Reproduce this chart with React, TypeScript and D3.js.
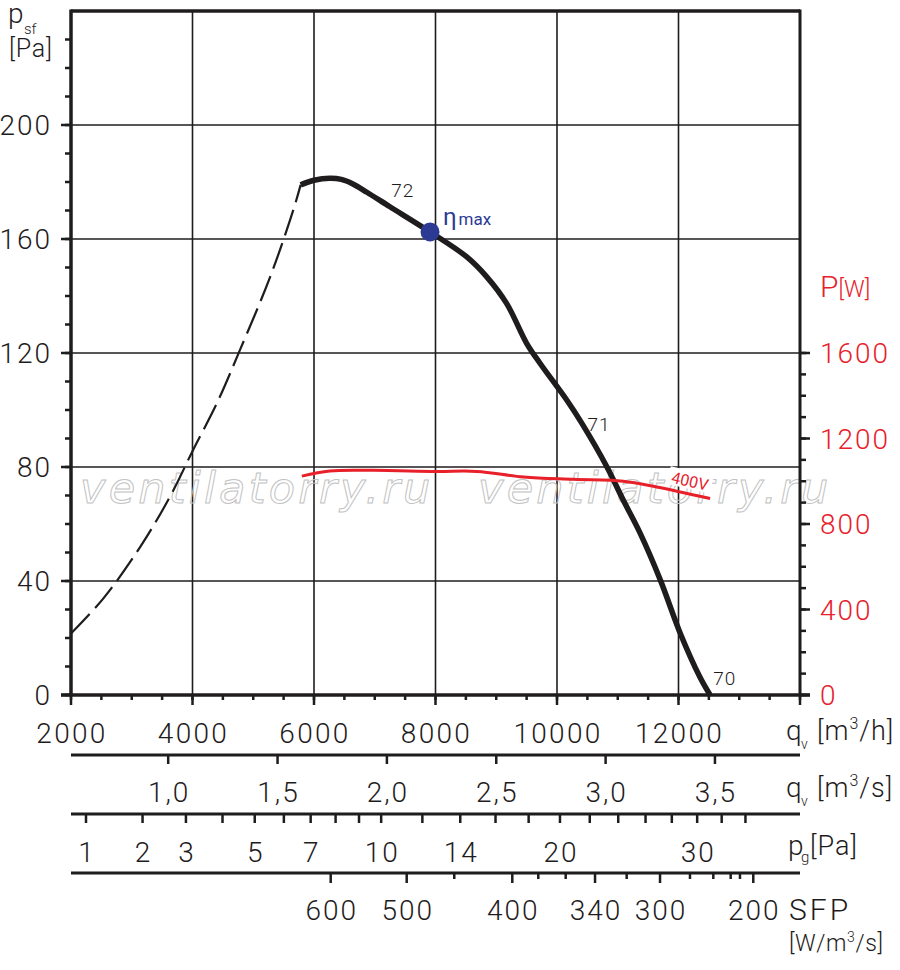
import React from "react";
import * as d3 from "d3";

// ---- data ----
const dashedQ = [2000, 2530, 3140, 3630, 4010, 4400, 4780, 5280, 5660, 5780];
const dashedP = [21.6, 33.8, 52, 69.6, 86, 102.3, 121, 146.8, 170.2, 179];

const solidQ = [5780, 6000, 6260, 6450, 6640, 6870, 7250, 7910, 8510, 8840, 9170, 9500, 9720, 10160, 10410, 10820, 11090, 11370, 11700, 12030, 12350, 12520];
const solidP = [179, 180.6, 181.3, 180.9, 179.3, 176.4, 171.3, 162.5, 153.8, 146.8, 137.4, 123.4, 116.4, 103.5, 95.3, 80.1, 68.4, 56.7, 40.4, 21.6, 6.4, 0];

const powerQ = [5800, 6260, 6980, 8020, 8680, 9450, 10270, 11090, 11640, 12520];
const powerW = [1024, 1048, 1051, 1046, 1046, 1020, 1009, 1000, 973, 919];

const etaQ = 7910;
const etaP = 162.5;

const xMajor = [2000, 4000, 6000, 8000, 10000, 12000, 14000];
const xLabels = [2000, 4000, 6000, 8000, 10000, 12000];
const xGrid = [4000, 6000, 8000, 10000, 12000];
const yMajor = [0, 40, 80, 120, 160, 200];
const yGrid = [40, 80, 120, 160, 200];
const pMajor = [0, 400, 800, 1200, 1600];

const qsTicks = [1.0, 1.5, 2.0, 2.5, 3.0, 3.5];
const pgTicks = [1, 2, 3, 4, 5, 6, 7, 8, 9, 10, 12, 14, 16, 18, 20, 22, 24, 26, 28, 30, 32, 34];
const pgLabels = [1, 2, 3, 5, 7, 10, 14, 20, 30];
const sfpValues = [600, 500, 450, 400, 380, 360, 340, 320, 300, 280, 260, 240, 220, 200];
const sfpQ = [6275, 7526, 8309, 9264, 9692, 10143, 10626, 11147, 11696, 12189, 12573, 12859, 13012, 13231];
const sfpLabels = [600, 500, 400, 340, 300, 200];

const curveLabels = [
  { q: 7460, p: 177, t: "72" },
  { q: 10690, p: 95, t: "71" },
  { q: 12760, p: 6, t: "70" },
];

// ---- layout ----
const L = 71, R = 800, T = 11, B = 695;
const FONT = "Roboto, 'DejaVu Sans', sans-serif";
const FW = 300;
const RED = "#e8202a";
const INK = "#1f1c1d";
const BLUE = "#2d3a94";

const x = d3.scaleLinear().domain([2000, 14000]).range([L, R]);
const y = d3.scaleLinear().domain([0, 240]).range([B, T]);
const yP = d3.scaleLinear().domain([0, 3200]).range([B, T]);
const qFromPg = d3.scaleSqrt().domain([0, 36]).range([0, 2247 * 6]);

function pathFrom(qs: number[], vs: number[], ys: (v: number) => number) {
  const pts: [number, number][] = qs.map((q, i) => [x(q), ys(vs[i])]);
  return d3.line().curve(d3.curveCatmullRom.alpha(0.5))(pts) || "";
}

const yMinor = d3.range(0, 240, 10);
const pMinor = d3.range(0, 1700, 100);
const xMinor = d3.range(2000, 14001, 500);

export default function App() {
  const txt = { fontFamily: FONT, fill: INK, fontWeight: FW } as const;
  return (
    <svg
      width={900}
      height={970}
      viewBox="0 0 900 970"
      style={{ position: "absolute", left: 0, top: 0, background: "#fff" }}
    >
      <rect x={0} y={0} width={900} height={970} fill="#fff" />

      {/* grid */}
      {xGrid.map((v) => (
        <line key={"gx" + v} x1={x(v)} x2={x(v)} y1={T} y2={B} stroke={INK} strokeWidth={1.6} />
      ))}
      {yGrid.map((v) => (
        <line key={"gy" + v} x1={L} x2={R} y1={y(v)} y2={y(v)} stroke={INK} strokeWidth={1.6} />
      ))}

      {/* watermark */}
      {[80, 478].map((wx) => (
        <text
          key={"wm" + wx}
          x={wx}
          y={503}
          fontFamily="'DejaVu Sans', sans-serif"
          fontStyle="italic"
          fontSize={43}
          letterSpacing={3.2}
          fill="none"
          stroke="#c2c2c2"
          strokeWidth={1}
        >
          ventilatorry.ru
        </text>
      ))}

      {/* 400V label background */}
      <g transform="translate(690,481) rotate(13)">
        <rect x={-22} y={-10} width={44} height={18} fill="#fff" />
      </g>

      {/* left axis ticks */}
      {yMinor.map((v) => (
        <line key={"ym" + v} x1={L - 6} x2={L} y1={y(v)} y2={y(v)} stroke={INK} strokeWidth={2.5} />
      ))}
      {yMajor.map((v) => (
        <line key={"yM" + v} x1={L - 10} x2={L} y1={y(v)} y2={y(v)} stroke={INK} strokeWidth={2.5} />
      ))}
      {yMajor.map((v) => (
        <text key={"yl" + v} x={52} y={y(v)} dy="0.36em" textAnchor="end" fontSize={28} letterSpacing={2} {...txt}>
          {v}
        </text>
      ))}

      {/* right axis ticks */}
      {pMinor.map((v) => (
        <line key={"pm" + v} x1={R} x2={R + 6} y1={yP(v)} y2={yP(v)} stroke={INK} strokeWidth={2.5} />
      ))}
      {pMajor.map((v) => (
        <line key={"pM" + v} x1={R} x2={R + 10} y1={yP(v)} y2={yP(v)} stroke={INK} strokeWidth={2.5} />
      ))}
      {pMajor.map((v) => (
        <text key={"pl" + v} x={820} y={yP(v)} dy="0.36em" fontSize={28} letterSpacing={2} fontFamily={FONT} fontWeight={FW} fill={RED}>
          {v}
        </text>
      ))}
      <text x={820} y={297} fontFamily={FONT} fontWeight={FW} fill={RED} fontSize={30}>
        P<tspan fontSize={23}>[W]</tspan>
      </text>

      {/* bottom axis ticks */}
      {xMinor.map((v) => (
        <line key={"xm" + v} x1={x(v)} x2={x(v)} y1={B} y2={B + 5} stroke={INK} strokeWidth={2.5} />
      ))}
      {xMajor.map((v) => (
        <line key={"xM" + v} x1={x(v)} x2={x(v)} y1={B} y2={B + 10} stroke={INK} strokeWidth={2.5} />
      ))}
      {xLabels.map((v) => (
        <text key={"xl" + v} x={x(v) + 1} y={743} textAnchor="middle" fontSize={28} letterSpacing={2.3} {...txt}>
          {v}
        </text>
      ))}

      {/* frame */}
      <line x1={L} x2={R} y1={T} y2={T} stroke={INK} strokeWidth={3.5} />
      <line x1={L} x2={L} y1={T - 1.5} y2={B} stroke={INK} strokeWidth={3.5} />
      <line x1={R} x2={R} y1={T - 1.5} y2={B} stroke={INK} strokeWidth={3} />
      <line x1={L - 10} x2={R + 10} y1={B} y2={B} stroke={INK} strokeWidth={3.5} />

      {/* curves */}
      <path
        d={pathFrom(dashedQ, dashedP, y)}
        fill="none"
        stroke={INK}
        strokeWidth={2.2}
        strokeDasharray="27 8"
      />
      <path d={pathFrom(solidQ, solidP, y)} fill="none" stroke={INK} strokeWidth={5.5} strokeLinecap="butt" />
      <path d={pathFrom(powerQ, powerW, yP)} fill="none" stroke={RED} strokeWidth={3} />

      <circle cx={x(etaQ)} cy={y(etaP)} r={9.5} fill={BLUE} />
      <text x={443} y={225} fontFamily={FONT} fill={BLUE} fontSize={24}>
        η<tspan fontSize={17} dx={2}>max</tspan>
      </text>

      {curveLabels.map((c) => (
        <text key={c.t} x={x(c.q)} y={y(c.p)} textAnchor="middle" dy="0.36em" fontSize={19} letterSpacing={1} {...txt}>
          {c.t}
        </text>
      ))}
      <g transform="translate(690,481) rotate(13)">
        <text textAnchor="middle" dy="0.36em" fontFamily={FONT} fill={RED} fontSize={16}>
          400V
        </text>
      </g>

      {/* left unit label */}
      <text x={8} y={23} fontSize={28} {...txt}>
        p
      </text>
      <text x={24} y={34} fontSize={15} {...txt}>
        sf
      </text>
      <text x={9} y={57} fontSize={25} letterSpacing={0.8} {...txt}>
        [Pa]
      </text>

      {/* main x unit */}
      <text x={786} y={740} fontSize={28} {...txt}>
        q
      </text>
      <text x={801} y={749} fontSize={14} {...txt}>
        v
      </text>
      <text x={817} y={740} fontSize={27} letterSpacing={1} {...txt}>
        [m<tspan fontSize={16} dy={-11}>3</tspan>
        <tspan dy={11}>/h]</tspan>
      </text>

      {/* m3/s axis */}
      <line x1={L} x2={R} y1={755} y2={755} stroke={INK} strokeWidth={3} />
      {qsTicks.map((v) => (
        <line key={"qs" + v} x1={x(v * 3600)} x2={x(v * 3600)} y1={755} y2={764} stroke={INK} strokeWidth={2.5} />
      ))}
      {qsTicks.map((v) => (
        <text key={"qsl" + v} x={x(v * 3600) + 1} y={802} textAnchor="middle" fontSize={28} letterSpacing={2} {...txt}>
          {v.toFixed(1).replace(".", ",")}
        </text>
      ))}
      <text x={786} y={797} fontSize={28} {...txt}>
        q
      </text>
      <text x={801} y={806} fontSize={14} {...txt}>
        v
      </text>
      <text x={817} y={797} fontSize={27} letterSpacing={1} {...txt}>
        [m<tspan fontSize={16} dy={-11}>3</tspan>
        <tspan dy={11}>/s]</tspan>
      </text>

      {/* pg axis */}
      <line x1={L} x2={R} y1={814} y2={814} stroke={INK} strokeWidth={3} />
      {pgTicks.map((v) => (
        <line
          key={"pg" + v}
          x1={x(qFromPg(v))}
          x2={x(qFromPg(v))}
          y1={814}
          y2={823}
          stroke={INK}
          strokeWidth={2.5}
        />
      ))}
      {pgLabels.map((v) => (
        <text key={"pgl" + v} x={x(qFromPg(v)) + 1} y={862} textAnchor="middle" fontSize={28} letterSpacing={2} {...txt}>
          {v}
        </text>
      ))}
      <text x={788} y={855} fontSize={28} {...txt}>
        p
      </text>
      <text x={801} y={862} fontSize={15} {...txt}>
        g
      </text>
      <text x={810} y={855} fontSize={27} letterSpacing={1} {...txt}>
        [Pa]
      </text>

      {/* SFP axis */}
      <line x1={L} x2={R} y1={873} y2={873} stroke={INK} strokeWidth={3} />
      {sfpValues.map((v, i) => (
        <line
          key={"sfp" + v}
          x1={x(sfpQ[i])}
          x2={x(sfpQ[i])}
          y1={873}
          y2={sfpLabels.includes(v) ? 883 : 879}
          stroke={INK}
          strokeWidth={2.5}
        />
      ))}
      {sfpValues.map((v, i) =>
        sfpLabels.includes(v) ? (
          <text key={"sfpl" + v} x={x(sfpQ[i]) + 1} y={920} textAnchor="middle" fontSize={28} letterSpacing={2} {...txt}>
            {v}
          </text>
        ) : null
      )}
      <text x={789} y={920} fontSize={30} letterSpacing={3} {...txt}>
        SFP
      </text>
      <text x={789} y={951} fontSize={23} letterSpacing={0.6} {...txt}>
        [W/m<tspan fontSize={14} dy={-9}>3</tspan>
        <tspan dy={9}>/s]</tspan>
      </text>
    </svg>
  );
}
